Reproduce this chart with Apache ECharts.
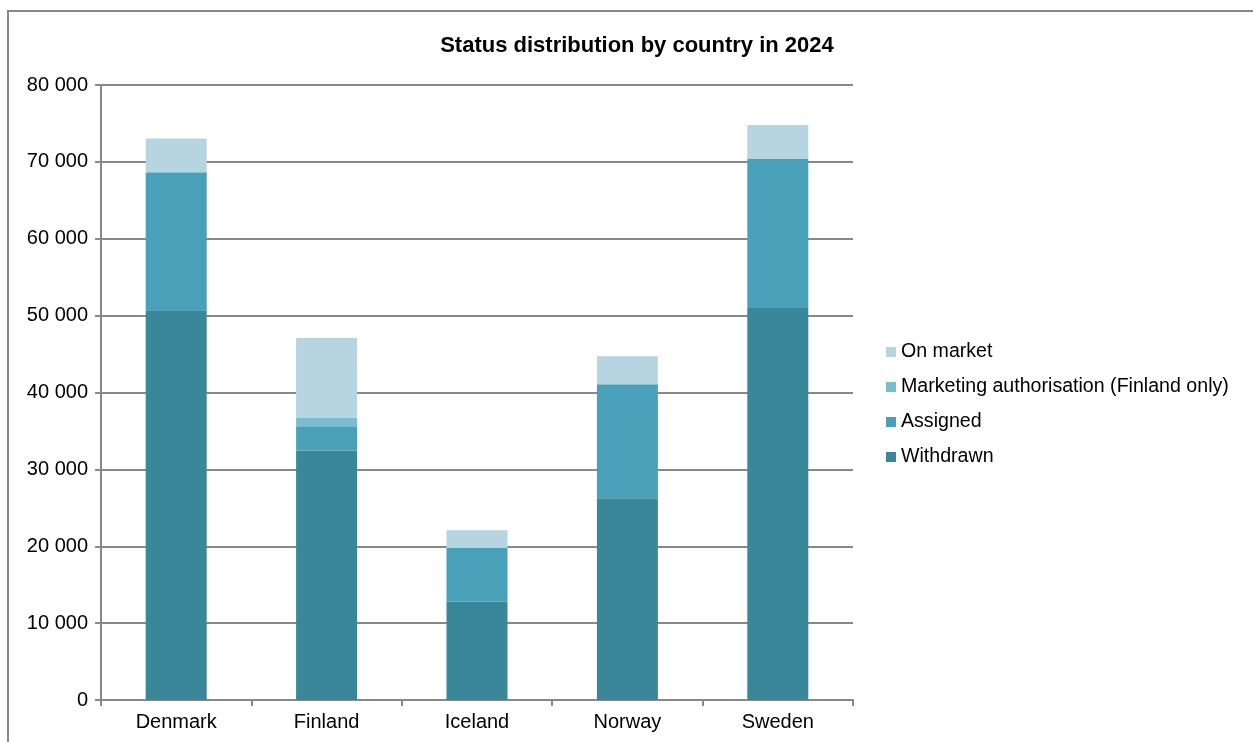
<!DOCTYPE html>
<html>
<head>
<meta charset="utf-8">
<script src="https://cdn.jsdelivr.net/npm/echarts@6/dist/echarts.min.js"></script>
<style>
html,body{margin:0;padding:0;background:#fff;}
#c{width:1253px;height:742px;}
</style>
</head>
<body>
<div id="c"></div>
<script>
const categories = ['Denmark', 'Finland', 'Iceland', 'Norway', 'Sweden'];
const withdrawn = [50700, 32470, 12770, 26230, 51000];
const assigned = [17950, 3150, 7010, 14850, 19390];
const marketingAuth = [0, 1130, 0, 0, 0];
const onMarket = [4400, 10350, 2300, 3630, 4410];
const seriesNames = ['Withdrawn', 'Assigned', 'Marketing authorisation (Finland only)', 'On market'];
const seriesColors = ['#3A879A', '#48A1B9', '#7ABCD0', '#B7D5E0'];

const font = '"Liberation Sans", Arial, sans-serif';
const chart = echarts.init(document.getElementById('c'));
const dataSets = [withdrawn, assigned, marketingAuth, onMarket];

chart.setOption({
  animation: false,
  title: {
    text: 'Status distribution by country in 2024',
    left: 632, top: 30, textAlign: 'center',
    textStyle: {fontFamily: '"Liberation Sans Narrow", "Arial Narrow", ' + font, fontWeight: 'bold', fontSize: 22, color: '#000'}
  },
  graphic: [{
    type: 'rect', shape: {x: 8, y: 11, width: 1300, height: 800},
    style: {fill: 'none', stroke: '#888', lineWidth: 2}, silent: true
  }],
  legend: {
    orient: 'vertical', left: 881, top: 337, itemWidth: 10, itemHeight: 10, itemGap: 15,
    data: seriesNames.slice().reverse(),
    textStyle: {fontFamily: font, fontSize: 19.6, color: '#000'},
    icon: 'rect'
  },
  grid: {left: 101, right: 400, top: 85, bottom: 42},
  xAxis: {
    type: 'category', data: categories,
    axisLine: {lineStyle: {color: '#888', width: 2}},
    axisTick: {show: true, length: 6, lineStyle: {color: '#888', width: 2}},
    axisLabel: {fontFamily: font, fontSize: 20, color: '#000', margin: 12}
  },
  yAxis: {
    type: 'value', min: 0, max: 80000, interval: 10000,
    axisLine: {show: true, lineStyle: {color: '#888', width: 2}},
    axisTick: {show: true, length: 6, lineStyle: {color: '#888', width: 2}},
    splitLine: {lineStyle: {color: '#888', width: 2}},
    axisLabel: {fontFamily: font, fontSize: 20, color: '#000', margin: 13,
      formatter: v => v === 0 ? '0' : String(v).replace(/\B(?=(\d{3})+(?!\d))/g, ' ')}
  },
  series: seriesNames.map((n, i) => ({
    name: n, type: 'bar', stack: 'total', barWidth: 61,
    data: dataSets[i],
    itemStyle: {color: seriesColors[i]},
    emphasis: {disabled: true}
  }))
});
</script>
</body>
</html>
